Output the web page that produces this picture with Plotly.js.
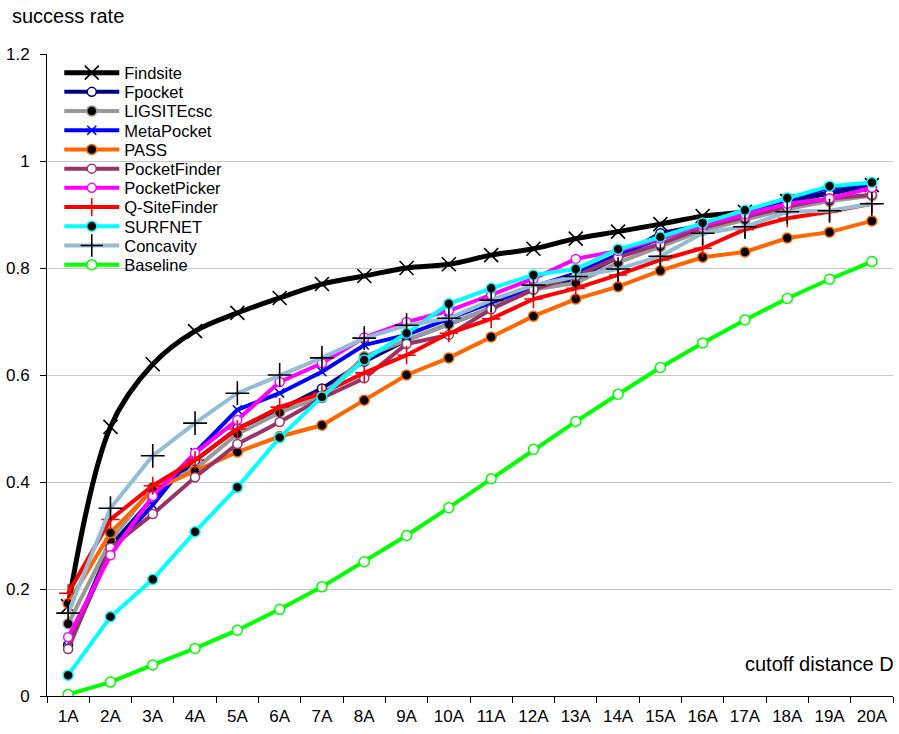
<!DOCTYPE html>
<html>
<head>
<meta charset="utf-8">
<script src="https://cdn.plot.ly/plotly-3.0.1.min.js"></script>
<style>html,body{margin:0;padding:0;background:#fff;}#chart{width:899px;height:734px;}</style>
</head>
<body>
<div id="chart"></div>
<script>
const categories = ["1A","2A","3A","4A","5A","6A","7A","8A","9A","10A","11A","12A","13A","14A","15A","16A","17A","18A","19A","20A"];
const findsite     = [0.168,0.503,0.620,0.682,0.716,0.744,0.770,0.785,0.800,0.807,0.824,0.836,0.855,0.868,0.882,0.897,0.905,0.925,0.940,0.955];
const fpocket      = [0.095,0.280,0.370,0.440,0.500,0.535,0.575,0.625,0.665,0.695,0.725,0.760,0.780,0.820,0.865,0.880,0.900,0.925,0.940,0.955];
const ligsite      = [0.135,0.290,0.390,0.424,0.490,0.530,0.560,0.634,0.665,0.695,0.725,0.760,0.772,0.810,0.840,0.870,0.890,0.910,0.925,0.935];
const metapocket   = [0.092,0.270,0.357,0.455,0.535,0.566,0.606,0.656,0.675,0.705,0.735,0.765,0.790,0.825,0.855,0.880,0.905,0.930,0.950,0.958];
const pass         = [0.173,0.305,0.385,0.420,0.456,0.485,0.506,0.553,0.600,0.632,0.671,0.710,0.742,0.765,0.795,0.820,0.830,0.856,0.867,0.888];
const pocketfinder = [0.088,0.277,0.340,0.409,0.471,0.512,0.557,0.594,0.658,0.675,0.723,0.760,0.785,0.820,0.845,0.875,0.895,0.915,0.930,0.937];
const pocketpicker = [0.110,0.263,0.374,0.454,0.516,0.587,0.622,0.670,0.699,0.720,0.750,0.780,0.817,0.832,0.855,0.880,0.900,0.920,0.930,0.950];
const qsitefinder  = [0.192,0.330,0.393,0.441,0.499,0.540,0.566,0.604,0.637,0.678,0.705,0.742,0.762,0.787,0.815,0.837,0.872,0.893,0.905,0.920];
const surfnet      = [0.039,0.148,0.218,0.307,0.390,0.483,0.559,0.628,0.678,0.733,0.762,0.787,0.798,0.835,0.858,0.884,0.908,0.931,0.953,0.960];
const concavity    = [0.155,0.351,0.449,0.510,0.566,0.600,0.632,0.669,0.693,0.706,0.740,0.768,0.784,0.798,0.822,0.865,0.877,0.905,0.907,0.920];
const baseline     = [0.003,0.026,0.058,0.089,0.123,0.162,0.204,0.251,0.300,0.352,0.406,0.461,0.513,0.564,0.614,0.660,0.703,0.743,0.779,0.812];
const yTicks = [0, 0.2, 0.4, 0.6, 0.8, 1, 1.2];
const yTickLabels = ["0","0.2","0.4","0.6","0.8","1","1.2"];

function tr(name, y, color, sym, mcolor, mline, size, lw, shape) {
  return {
    type: 'scatter', mode: 'lines+markers', name: name, x: categories, y: y,
    line: {color: color, width: lw || 4, shape: shape || 'linear'},
    marker: {symbol: sym, size: size, color: mcolor, line: {color: mline, width: (sym.indexOf('thin') >= 0 ? 1.6 : 1.5)}}
  };
}
const data = [
  tr('Findsite', findsite, '#000000', 'x-thin', '#000000', '#000000', 14, 5, 'spline'),
  tr('Fpocket', fpocket, '#000080', 'circle', '#ffffff', '#000080', 9),
  tr('LIGSITEcsc', ligsite, '#999999', 'circle', '#000000', '#999999', 10),
  tr('MetaPocket', metapocket, '#0000ff', 'x-thin', '#0000ff', '#0000ff', 9),
  tr('PASS', pass, '#ff6600', 'circle', '#000000', '#ff6600', 10),
  tr('PocketFinder', pocketfinder, '#993366', 'circle', '#ffffff', '#993366', 9),
  tr('PocketPicker', pocketpicker, '#ff00ff', 'circle', '#ffffff', '#ff00ff', 9),
  tr('Q-SiteFinder', qsitefinder, '#ff0000', 'cross-thin', '#ff0000', '#ff0000', 13),
  tr('SURFNET', surfnet, '#00ffff', 'circle', '#000000', '#00ffff', 10),
  tr('Concavity', concavity, '#93bdd4', 'cross-thin', '#000000', '#000000', 17),
  tr('Baseline', baseline, '#00ff00', 'circle', '#ffffff', '#00ff00', 10)
];
const layout = {
  width: 899, height: 734,
  margin: {l: 47, r: 6, t: 54, b: 38},
  paper_bgcolor: '#ffffff', plot_bgcolor: '#ffffff',
  font: {family: 'Liberation Sans, Arial, sans-serif', size: 16, color: '#000000'},
  showlegend: true,
  legend: {x: 0.0145, y: 0.99, xanchor: 'left', yanchor: 'top', bgcolor: 'rgba(0,0,0,0)',
           font: {size: 16.5}, itemwidth: 55, tracegroupgap: 0},
  xaxis: {type: 'category', tickson: 'boundaries', ticks: 'outside', ticklen: 6, tickcolor: '#000',
          showline: true, linecolor: '#000', linewidth: 1, showgrid: false, zeroline: false,
          range: [-0.5, 19.5], tickfont: {size: 17}, ticklabelstandoff: 5},
  yaxis: {range: [0, 1.2], tickvals: yTicks, ticktext: yTickLabels, ticks: 'outside', ticklen: 6,
          tickcolor: '#000', showline: true, linecolor: '#000', linewidth: 1, ticklabelstandoff: 7,
          showgrid: true, gridcolor: '#c8c8c8', gridwidth: 1, zeroline: false, tickfont: {size: 17}},
  annotations: [
    {text: 'success rate', xref: 'paper', yref: 'paper', x: -37/846, y: (696-16)/642, xanchor: 'left', yanchor: 'middle', showarrow: false, font: {size: 20}},
    {text: 'cutoff distance D', xref: 'paper', yref: 'paper', x: 1.004, y: (696-664)/642, xanchor: 'right', yanchor: 'middle', showarrow: false, font: {size: 20}}
  ]
};
Plotly.newPlot('chart', data, layout, {displayModeBar: false, staticPlot: true}).then(function () {
  // tighten legend row spacing to match the reference
  const items = document.querySelectorAll('.legend .traces');
  if (!items.length) return;
  const parse = el => {
    const m = /translate\(\s*([-\d.]+)[ ,]+([-\d.]+)\s*\)/.exec(el.getAttribute('transform') || '');
    return m ? [parseFloat(m[1]), parseFloat(m[2])] : [0, 0];
  };
  const first = parse(items[0]);
  items.forEach(function (el, i) {
    const p = parse(el);
    el.setAttribute('transform', 'translate(' + p[0] + ',' + (first[1] - 5 + i * 19.2) + ')');
  });
});
</script>
</body>
</html>
